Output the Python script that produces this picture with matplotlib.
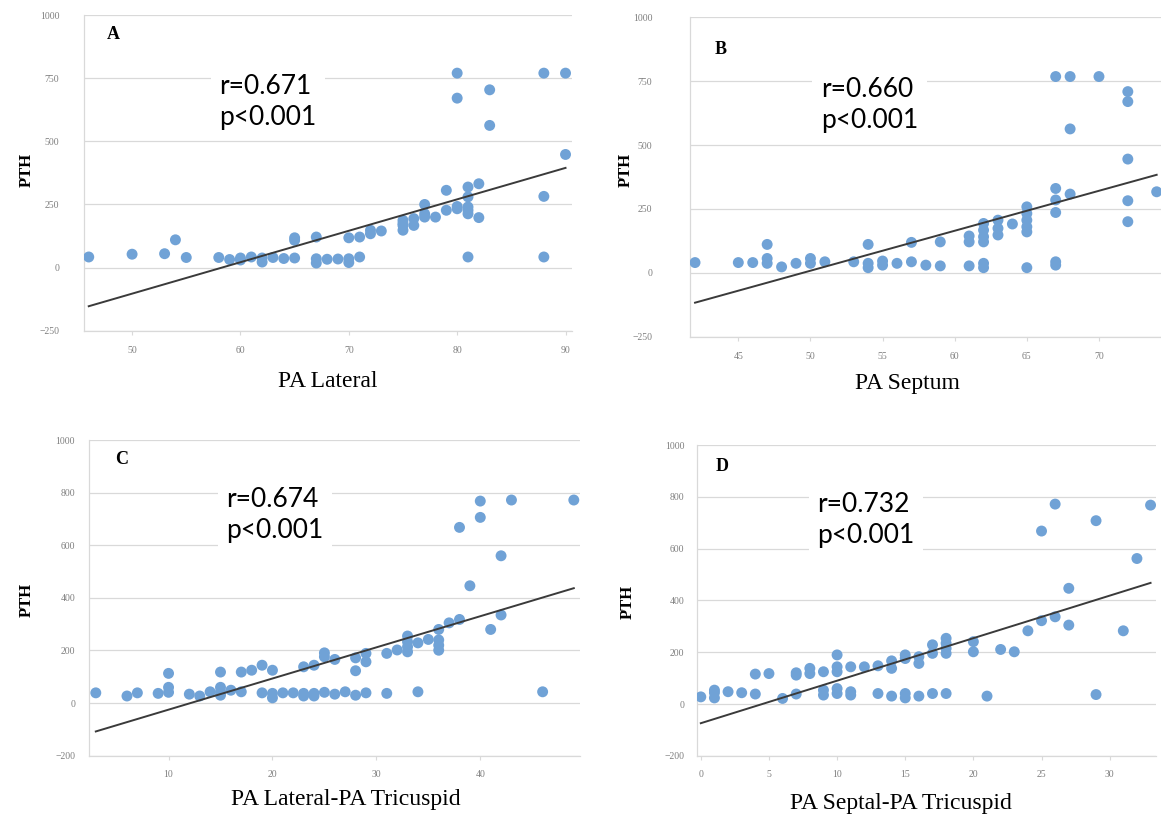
import matplotlib
matplotlib.use("Agg")
import matplotlib.pyplot as plt
import numpy as np

# panel A: PA Lateral vs PTH
pa_lateral = [46, 50, 53, 54, 55, 58, 59, 60, 60, 61, 62, 62, 63, 64, 65, 65, 65, 67, 67, 67, 68, 69, 70, 70, 70,
              71, 71, 72, 72, 73, 75, 75, 75, 75, 76, 76, 77, 77, 77, 78, 79, 79, 80, 80, 80, 80, 81, 81, 81, 81,
              81, 81, 82, 82, 83, 83, 88, 88, 88, 90, 90]
pth_a = [42, 53, 55, 110, 40, 40, 32, 30, 38, 42, 38, 22, 40, 36, 38, 118, 108, 121, 35, 18, 33, 34, 118, 35, 20,
         121, 42, 134, 148, 145, 148, 167, 187, 175, 167, 194, 250, 200, 213, 200, 306, 227, 770, 671, 233, 242,
         319, 280, 240, 227, 213, 42, 332, 198, 704, 563, 770, 282, 42, 770, 448]

# panel B: PA Septum vs PTH
pa_septum = [42, 45, 46, 47, 47, 47, 48, 49, 50, 50, 51, 53, 54, 54, 54, 55, 55, 56, 57, 57, 58, 59, 59, 61, 61,
             61, 62, 62, 62, 62, 62, 62, 63, 63, 63, 64, 65, 65, 65, 65, 65, 65, 67, 67, 67, 67, 67, 67, 68, 68,
             68, 70, 72, 72, 72, 72, 72, 74]
pth_b = [40, 40, 40, 111, 56, 37, 23, 37, 56, 37, 43, 43, 111, 37, 20, 46, 30, 37, 119, 43, 30, 121, 27, 144, 121,
         27, 193, 167, 141, 121, 37, 20, 206, 174, 148, 191, 258, 232, 206, 180, 160, 20, 768, 330, 285, 236, 43,
         30, 768, 563, 308, 768, 709, 670, 445, 282, 200, 317]

# panel C: PA Lateral-PA Tricuspid vs PTH
lat_tric = [3, 6, 7, 9, 10, 10, 10, 12, 13, 14, 15, 15, 15, 15, 16, 17, 17, 18, 19, 19, 20, 20, 20, 21, 22, 23,
            23, 23, 24, 24, 24, 25, 25, 25, 26, 26, 27, 28, 28, 28, 29, 29, 29, 31, 31, 32, 33, 33, 33, 33, 34, 34,
            35, 36, 36, 36, 36, 37, 38, 38, 39, 40, 40, 41, 42, 42, 43, 46, 49]
pth_c = [39, 27, 39, 37, 113, 60, 41, 34, 27, 43, 118, 60, 43, 30, 49, 118, 43, 125, 144, 39, 125, 37, 20, 39, 39,
         138, 37, 27, 144, 37, 27, 191, 176, 41, 166, 34, 43, 172, 123, 30, 189, 157, 39, 189, 37, 202, 255, 233,
         214, 195, 229, 43, 242, 280, 240, 220, 201, 305, 668, 318, 446, 768, 706, 280, 560, 335, 772, 43, 772]

# panel D: PA Septal-PA Tricuspid vs PTH
sep_tric = [0, 1, 1, 1, 2, 3, 4, 4, 5, 6, 7, 7, 7, 8, 8, 9, 9, 9, 10, 10, 10, 10, 10, 11, 11, 11, 12, 13, 13, 14,
            14, 14, 15, 15, 15, 15, 16, 16, 16, 17, 17, 17, 18, 18, 18, 18, 18, 20, 20, 21, 22, 23, 24, 25, 25, 26,
            26, 27, 27, 29, 29, 31, 32, 33]
pth_d = [28, 54, 44, 24, 48, 44, 116, 39, 118, 22, 121, 112, 39, 138, 118, 125, 54, 35, 190, 144, 125, 60, 41, 144,
         48, 35, 144, 148, 41, 167, 138, 31, 190, 176, 41, 24, 183, 157, 31, 229, 196, 41, 254, 235, 215, 196, 41,
         241, 202, 31, 211, 202, 283, 668, 322, 772, 337, 447, 305, 708, 37, 283, 562, 768]

# trend lines (slope, intercept)
trend = [(12.45, -725.7), (15.64, -773.9), (11.84, -143.3), (16.41, -73.6)]
stats = ["r=0.671\np<0.001", "r=0.660\np<0.001", "r=0.674\np<0.001", "r=0.732\np<0.001"]
letters = ["A", "B", "C", "D"]
xlabels = ["PA Lateral", "PA Septum", "PA Lateral-PA Tricuspid", "PA Septal-PA Tricuspid"]

BLUE = "#70a2d6"
GRID = "#d9d9d9"
SERIF = "Liberation Serif"

fig = plt.figure(figsize=(11.61, 8.14), dpi=100)

panels = [
    # data, axes rect, limits, ticks, tick pads and text positions (axes fraction)
    dict(x=pa_lateral, y=pth_a, rect=[0.0727, 0.5937, 0.420, 0.3878], xlim=(45.6, 90.6), ylim=(-250, 1000),
         xt=[50, 60, 70, 80, 90], yt=[-250, 0, 250, 500, 750, 1000], ypad=18, xpad=8,
         xl=(0.5, -0.127), yl=(-0.101, 0.509), let=(0.047, 0.937), st=(0.276, 0.723)),
    dict(x=pa_septum, y=pth_b, rect=[0.5943, 0.5864, 0.4057, 0.3924], xlim=(41.65, 74.3), ylim=(-250, 1000),
         xt=[45, 50, 55, 60, 65, 70], yt=[-250, 0, 250, 500, 750, 1000], ypad=27, xpad=8,
         xl=(0.461, -0.114), yl=(-0.12, 0.522), let=(0.053, 0.90), st=(0.278, 0.725)),
    dict(x=lat_tric, y=pth_c, rect=[0.0767, 0.0716, 0.4229, 0.3878], xlim=(2.35, 49.6), ylim=(-200, 1000),
         xt=[10, 20, 30, 40], yt=[-200, 0, 200, 400, 600, 800, 1000], ypad=10, xpad=7,
         xl=(0.523, -0.105), yl=(-0.11, 0.493), let=(0.053, 0.937), st=(0.279, 0.764)),
    dict(x=sep_tric, y=pth_d, rect=[0.6001, 0.0713, 0.3956, 0.382], xlim=(-0.3, 33.4), ylim=(-200, 1000),
         xt=[0, 5, 10, 15, 20, 25, 30], yt=[-200, 0, 200, 400, 600, 800, 1000], ypad=9, xpad=7,
         xl=(0.445, -0.118), yl=(-0.133, 0.496), let=(0.042, 0.93), st=(0.262, 0.759)),
]

for i, p in enumerate(panels):
    ax = fig.add_axes(p["rect"])
    x = np.array(p["x"])
    y = np.array(p["y"])
    ax.scatter(x, y, s=62, color=BLUE, edgecolors="none", zorder=3)

    slope, icpt = trend[i]
    xs = np.array([x.min(), x.max()])
    ax.plot(xs, slope * xs + icpt, color="#3a3a3a", lw=1.4, zorder=4)

    ax.set_xlim(*p["xlim"])
    ax.set_ylim(*p["ylim"])
    ax.set_xticks(p["xt"])
    ax.set_yticks(p["yt"])
    ax.grid(axis="y", color=GRID, lw=0.9)
    ax.set_axisbelow(True)
    for s in ["top", "right"]:
        ax.spines[s].set_visible(False)
    for s in ["left", "bottom"]:
        ax.spines[s].set_color(GRID)
        ax.spines[s].set_linewidth(0.9)
    ax.tick_params(axis="y", length=0, pad=p["ypad"], labelsize=7, labelcolor="#7f7f7f")
    ax.tick_params(axis="x", length=3, color=GRID, pad=p["xpad"], labelsize=7, labelcolor="#7f7f7f")
    for lab in ax.get_xticklabels() + ax.get_yticklabels():
        lab.set_fontfamily(SERIF)

    ax.set_xlabel(xlabels[i], fontsize=17, family=SERIF)
    ax.xaxis.set_label_coords(*p["xl"])
    ax.set_ylabel("PTH", fontsize=12, family=SERIF, fontweight="bold")
    ax.yaxis.set_label_coords(*p["yl"])

    ax.text(p["let"][0], p["let"][1], letters[i], transform=ax.transAxes, fontsize=13,
            family=SERIF, fontweight="bold", ha="left", va="center")
    ax.text(p["st"][0], p["st"][1], stats[i], transform=ax.transAxes, fontsize=19,
            family=["Lato", "DejaVu Sans"], ha="left", va="center", linespacing=1.3, zorder=5,
            bbox=dict(facecolor="white", edgecolor="none", pad=6))

fig.savefig("out.png", dpi=100)
